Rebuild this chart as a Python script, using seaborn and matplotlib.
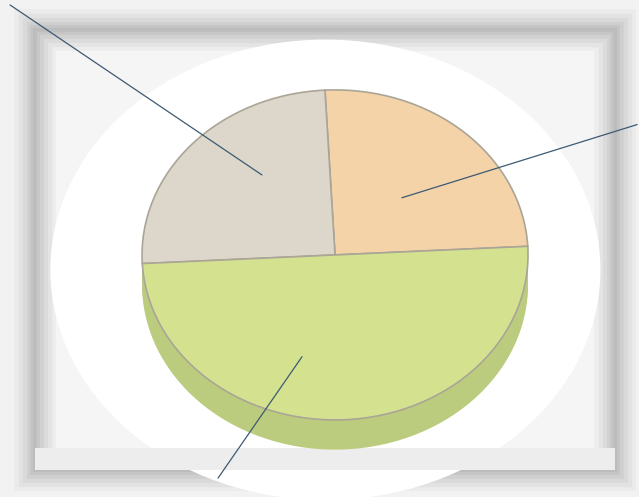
import numpy as np
import matplotlib
matplotlib.use("Agg")
import matplotlib.pyplot as plt
import seaborn as sns
from matplotlib.patches import Rectangle, Ellipse

sns.set_theme(style="white")

# data: three slices, no labels printed in the original scan
slices = ["Orange", "Beige", "Green"]
shares = [25, 25, 50]
top_colors = ["#f4d3a8", "#ddd7cb", "#d4e290"]
side_colors = ["#d9b68a", "#c4bdb0", "#bccc7e"]

# leader-line placement: (text position, angle offset from mid-angle, radius)
label_pos = [(1.565, 0.79), (-1.684, 1.515), (-0.606, -1.352)]
anchor_shift = [(-3, 0.49), (-10, 0.615), (-18.5, 0.64)]

fig = plt.figure(figsize=(6.39, 4.97), dpi=100)
fig.patch.set_facecolor("#f2f2f2")
ax = fig.add_axes([0, 0, 1, 1])
ax.set_axis_off()

# background frame with soft blurred shadow bands
frame = (-1.554, -1.303, 3.005, 2.667)
for lw, a in [(30, 0.08), (24, 0.10), (18, 0.12), (12, 0.15), (7, 0.18), (3, 0.2)]:
    ax.add_patch(Rectangle(frame[:2], frame[2], frame[3], facecolor="none",
                           edgecolor="#9a9a9a", linewidth=lw, alpha=a, zorder=0.5))
ax.add_patch(Rectangle(frame[:2], frame[2], frame[3], facecolor="#f5f5f5",
                       edgecolor="none", zorder=0.4))
ax.add_patch(Ellipse((-0.05, -0.09), 2.85, 2.79, facecolor="white",
                     edgecolor="none", zorder=1.5))
ax.add_patch(Rectangle((-1.554, -1.303), 3.005, 0.13, facecolor="#ededed",
                       edgecolor="none", zorder=1.6))

# 3D side of the pie: stacked shifted copies drawn underneath
for k in range(10):
    side, _ = ax.pie(shares, colors=side_colors, startangle=3, counterclock=True,
                     center=(0, -0.18 + k * 0.02), radius=1.0, frame=True,
                     wedgeprops=dict(edgecolor="none"))
    for w in side:
        w.set_zorder(2)

wedges, _ = ax.pie(shares, colors=top_colors, startangle=3, counterclock=True,
                   center=(0, 0), radius=1.0, frame=True,
                   wedgeprops=dict(edgecolor="#aaa596", linewidth=1.2))
for w in wedges:
    w.set_zorder(3)

ax.set_xlim(-1.736, 1.575)
ax.set_ylim(-1.467, 1.545)
ax.set_aspect("auto")
ax.set_axis_off()

# empty data labels with leader lines
for w, pos, (dang, rad) in zip(wedges, label_pos, anchor_shift):
    mid = np.deg2rad((w.theta1 + w.theta2) / 2 + dang)
    anchor = (rad * np.cos(mid), rad * np.sin(mid))
    ax.annotate("", xy=anchor, xytext=pos, zorder=4,
                arrowprops=dict(arrowstyle="-", color="#3d5a73", lw=0.9,
                                shrinkA=0, shrinkB=0))

fig.savefig("out.png", dpi=100)
